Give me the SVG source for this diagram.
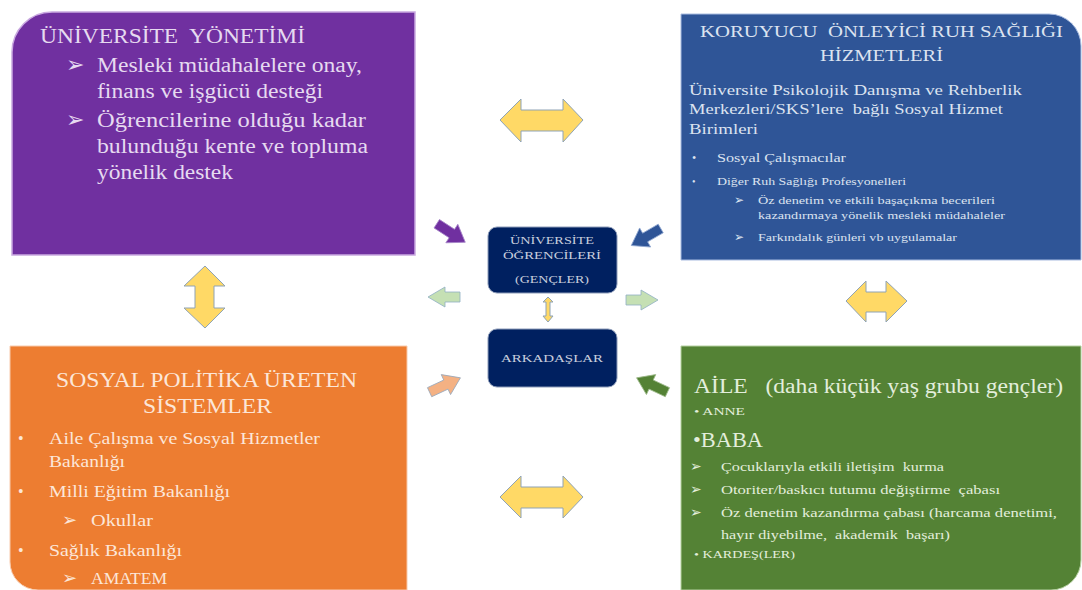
<svg xmlns="http://www.w3.org/2000/svg" width="1082" height="590" viewBox="0 0 1082 590">
<style>
  text { font-family: "Liberation Serif", "Times New Roman", serif; white-space: pre; }
  .sym { font-family: "DejaVu Sans", sans-serif; }
  .pt { fill: #E6DAF0; }
  .bt { fill: #DCE3F0; }
  .ot { fill: #FCE6D8; }
  .gt { fill: #E3EEDC; }
  .ct { fill: #C8CEDD; font-size: 11px; text-anchor: middle; }
  .dbl { fill: #FFD966; stroke: #8FA3B5; stroke-width: 1; }
</style>
<defs>
  <path id="blk" d="M-17,-5 L1,-5 L1,-11 L17,0 L1,11 L1,5 L-17,5 Z"/>
  <path id="lg" d="M-16,-5 L-1,-5 L-1,-10 L16,0 L-1,10 L-1,5 L-16,5 Z"/>
</defs>

<g id="node-universite-yonetimi">
  <path d="M12,52 A40,40 0 0 1 52,12 H415 V255 H12 Z" fill="#7030A0" stroke="#C9A9E0" stroke-width="1.5"/>
  <text class="pt" x="40" y="43" font-size="21" textLength="265" lengthAdjust="spacingAndGlyphs">ÜNİVERSİTE  YÖNETİMİ</text>
  <text class="pt sym" x="66" y="72" font-size="22">➢</text>
  <text class="pt" x="97" y="72" font-size="20" textLength="265" lengthAdjust="spacingAndGlyphs">Mesleki müdahalelere onay,</text>
  <text class="pt" x="97" y="98" font-size="20" textLength="226" lengthAdjust="spacingAndGlyphs">finans ve işgücü desteği</text>
  <text class="pt sym" x="66" y="127" font-size="22">➢</text>
  <text class="pt" x="97" y="127" font-size="20" textLength="269" lengthAdjust="spacingAndGlyphs">Öğrencilerine olduğu kadar</text>
  <text class="pt" x="97" y="153" font-size="20" textLength="271" lengthAdjust="spacingAndGlyphs">bulunduğu kente ve topluma</text>
  <text class="pt" x="97" y="179" font-size="20" textLength="136" lengthAdjust="spacingAndGlyphs">yönelik destek</text>
</g>

<g id="node-koruyucu">
  <path d="M681,14 H1049 A32,32 0 0 1 1081,46 V260 H681 Z" fill="#2F5597" stroke="#A9BCE0" stroke-width="1"/>
  <text class="bt" x="700" y="37" font-size="17" textLength="363" lengthAdjust="spacingAndGlyphs">KORUYUCU  ÖNLEYİCİ RUH SAĞLIĞI</text>
  <text class="bt" x="820" y="61" font-size="17" textLength="123" lengthAdjust="spacingAndGlyphs">HİZMETLERİ</text>
  <text class="bt" x="689" y="95" font-size="15" textLength="333" lengthAdjust="spacingAndGlyphs">Üniversite Psikolojik Danışma ve Rehberlik</text>
  <text class="bt" x="689" y="114" font-size="15" textLength="314" lengthAdjust="spacingAndGlyphs">Merkezleri/SKS’lere  bağlı Sosyal Hizmet</text>
  <text class="bt" x="689" y="134" font-size="15" textLength="69" lengthAdjust="spacingAndGlyphs">Birimleri</text>
  <text class="bt" x="692" y="162" font-size="12">•</text>
  <text class="bt" x="717" y="162" font-size="12" textLength="129" lengthAdjust="spacingAndGlyphs">Sosyal Çalışmacılar</text>
  <text class="bt" x="692" y="185" font-size="10">•</text>
  <text class="bt" x="717" y="185" font-size="10" textLength="189" lengthAdjust="spacingAndGlyphs">Diğer Ruh Sağlığı Profesyonelleri</text>
  <text class="bt sym" x="734" y="204" font-size="12">➢</text>
  <text class="bt" x="758" y="204" font-size="9.5" textLength="237" lengthAdjust="spacingAndGlyphs">Öz denetim ve etkili başaçıkma becerileri</text>
  <text class="bt" x="758" y="219" font-size="9.5" textLength="247" lengthAdjust="spacingAndGlyphs">kazandırmaya yönelik mesleki müdahaleler</text>
  <text class="bt sym" x="734" y="241" font-size="12">➢</text>
  <text class="bt" x="758" y="241" font-size="9.5" textLength="199" lengthAdjust="spacingAndGlyphs">Farkındalık günleri vb uygulamalar</text>
</g>

<g id="node-ogrenciler">
  <rect x="488" y="227" width="129" height="66" rx="9" fill="#002060" stroke="#8C9BB8" stroke-width="1"/>
  <text class="ct" x="552" y="244" textLength="84" lengthAdjust="spacingAndGlyphs">ÜNİVERSİTE</text>
  <text class="ct" x="552" y="259" textLength="98" lengthAdjust="spacingAndGlyphs">ÖĞRENCİLERİ</text>
  <text class="ct" x="552" y="283" textLength="74" lengthAdjust="spacingAndGlyphs">(GENÇLER)</text>
</g>

<g id="node-arkadaslar">
  <rect x="488" y="329" width="129" height="58" rx="9" fill="#002060" stroke="#8C9BB8" stroke-width="1"/>
  <text class="ct" x="552" y="362" textLength="102" lengthAdjust="spacingAndGlyphs">ARKADAŞLAR</text>
</g>

<g id="node-sosyal-politika">
  <path d="M10,346 H407 V590 H38 A28,28 0 0 1 10,562 Z" fill="#ED7D31" stroke="#F8CBAD" stroke-width="1"/>
  <text class="ot" x="56" y="387" font-size="20" textLength="301" lengthAdjust="spacingAndGlyphs">SOSYAL POLİTİKA ÜRETEN</text>
  <text class="ot" x="143" y="413" font-size="20" textLength="129" lengthAdjust="spacingAndGlyphs">SİSTEMLER</text>
  <text class="ot" x="18" y="444" font-size="16">•</text>
  <text class="ot" x="49" y="444" font-size="16" textLength="271" lengthAdjust="spacingAndGlyphs">Aile Çalışma ve Sosyal Hizmetler</text>
  <text class="ot" x="49" y="467" font-size="16" textLength="76" lengthAdjust="spacingAndGlyphs">Bakanlığı</text>
  <text class="ot" x="18" y="497" font-size="16">•</text>
  <text class="ot" x="49" y="497" font-size="16" textLength="181" lengthAdjust="spacingAndGlyphs">Milli Eğitim Bakanlığı</text>
  <text class="ot sym" x="62" y="526" font-size="18">➢</text>
  <text class="ot" x="91" y="526" font-size="16" textLength="62" lengthAdjust="spacingAndGlyphs">Okullar</text>
  <text class="ot" x="18" y="556" font-size="16">•</text>
  <text class="ot" x="49" y="556" font-size="16" textLength="133" lengthAdjust="spacingAndGlyphs">Sağlık Bakanlığı</text>
  <text class="ot sym" x="62" y="584" font-size="18">➢</text>
  <text class="ot" x="91" y="584" font-size="16" textLength="76" lengthAdjust="spacingAndGlyphs">AMATEM</text>
</g>

<g id="node-aile">
  <path d="M681,346 H1081 V560 A30,30 0 0 1 1051,590 H681 Z" fill="#548235" stroke="#B5D0A0" stroke-width="1"/>
  <text class="gt" x="694" y="393" font-size="20" textLength="369" lengthAdjust="spacingAndGlyphs">AİLE   (daha küçük yaş grubu gençler)</text>
  <text class="gt" x="694" y="415" font-size="11" textLength="51" lengthAdjust="spacingAndGlyphs">• ANNE</text>
  <text class="gt" x="693" y="447" font-size="20" textLength="70" lengthAdjust="spacingAndGlyphs">•BABA</text>
  <text class="gt sym" x="690" y="471" font-size="14">➢</text>
  <text class="gt" x="721" y="471" font-size="12" textLength="223" lengthAdjust="spacingAndGlyphs">Çocuklarıyla etkili iletişim  kurma</text>
  <text class="gt sym" x="690" y="494" font-size="14">➢</text>
  <text class="gt" x="721" y="494" font-size="12" textLength="279" lengthAdjust="spacingAndGlyphs">Otoriter/baskıcı tutumu değiştirme  çabası</text>
  <text class="gt sym" x="690" y="517" font-size="14">➢</text>
  <text class="gt" x="721" y="517" font-size="12" textLength="336" lengthAdjust="spacingAndGlyphs">Öz denetim kazandırma çabası (harcama denetimi,</text>
  <text class="gt" x="721" y="539" font-size="12" textLength="229" lengthAdjust="spacingAndGlyphs">hayır diyebilme,  akademik  başarı)</text>
  <text class="gt" x="694" y="558" font-size="11" textLength="101" lengthAdjust="spacingAndGlyphs">• KARDEŞ(LER)</text>
</g>

<g id="connectors">
  <path class="dbl" d="M500,120 L521,99 L521,110 L563,110 L563,99 L583,120 L563,142 L563,131 L521,131 L521,142 Z"/>
  <path class="dbl" d="M500,497 L521,476 L521,487 L563,487 L563,476 L583,497 L563,518 L563,508 L521,508 L521,518 Z"/>
  <path class="dbl" d="M205,266 L225,286 L214,286 L214,308 L225,308 L205,328 L184,308 L195,308 L195,286 L184,286 Z"/>
  <path class="dbl" d="M846,301 L866,281 L866,292 L886,292 L886,281 L907,301 L886,322 L886,312 L866,312 L866,322 Z"/>
  <path class="dbl" d="M548,297 L553,302 L550,302 L550,316 L553,316 L548,322 L543,316 L546,316 L546,302 L543,302 Z"/>
  <use href="#blk" transform="translate(451,233) rotate(33)" fill="#7030A0" stroke="#A685C8" stroke-width="0.8"/>
  <use href="#blk" transform="translate(646,237) rotate(150)" fill="#2F5597" stroke="#8FA6D0" stroke-width="0.8"/>
  <use href="#blk" transform="translate(445,385) rotate(-25)" fill="#F4B183" stroke="#9AA9BB" stroke-width="0.8"/>
  <use href="#blk" transform="translate(652,385) rotate(205)" fill="#548235" stroke="#9DB98A" stroke-width="0.8"/>
  <use href="#lg" transform="translate(444,297) rotate(180)" fill="#C5E0B4" stroke="#8FAFC4" stroke-width="0.8"/>
  <use href="#lg" transform="translate(642,300)" fill="#C5E0B4" stroke="#8FAFC4" stroke-width="0.8"/>
</g>
</svg>
